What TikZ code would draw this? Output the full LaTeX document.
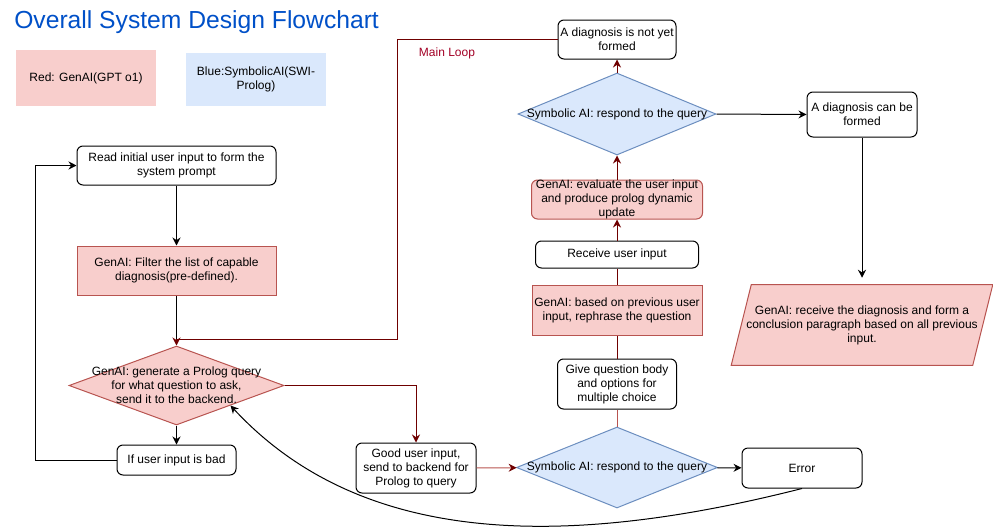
\documentclass[tikz,border=0pt]{standalone}
\usepackage{fontspec}
\setmainfont{Liberation Sans}
\usetikzlibrary{arrows.meta,shapes.geometric}

\definecolor{redfill}{HTML}{F8CECC}
\definecolor{redline}{HTML}{B85450}
\definecolor{bluefill}{HTML}{DAE8FC}
\definecolor{blueline}{HTML}{6C8EBF}
\definecolor{loopred}{HTML}{6F0000}
\definecolor{looptext}{HTML}{A20025}
\definecolor{titleblue}{HTML}{0050C8}

\tikzset{
  box/.style={draw, rounded corners=4.5pt, line width=0.75pt, align=center, inner sep=0pt},
  genbox/.style={draw=redline, fill=redfill, line width=0.75pt, align=center, inner sep=0pt},
  keybox/.style={align=center, inner sep=0pt},
  decision/.style={diamond, line width=0.75pt, inner sep=0pt},
  intext/.style={label={[align=center]center:{#1}}},
  link/.style={line width=0.75pt},
  flow/.style={line width=0.75pt, -{Stealth[length=6pt,width=6pt,inset=2pt]}},
  redflow/.style={line width=0.75pt, -{Stealth[length=6pt,width=6pt,inset=2pt,color=loopred]}},
}

\begin{document}
\begin{tikzpicture}[x=0.75pt, y=-0.75pt, font=\fontsize{9}{10.5}\selectfont]
  \useasboundingbox (0,0) rectangle (993,529);

  % Title and colour key
  \node[anchor=base west, inner sep=0pt, text=titleblue, font=\fontsize{18.5}{22}\selectfont] (title) at (14,28) {Overall System Design Flowchart};
  \node[keybox, fill=redfill, minimum width=105pt, minimum height=42pt] (keyred) at (86,78) {Red: GenAI(GPT o1)};
  \node[keybox, fill=bluefill, minimum width=105pt, minimum height=39.75pt] (keyblue) at (256,79.5) {Blue:SymbolicAI(SWI-\\Prolog)};

  % Left column
  \node[box, minimum width=149.25pt, minimum height=29.25pt] (read) at (176.5,165.5) {Read initial user input to form the\\system prompt};
  \node[genbox, minimum width=149.25pt, minimum height=36.75pt] (filter) at (176.5,270.5) {GenAI: Filter the list of capable\\diagnosis(pre-defined).};
  \node[decision, draw=redline, fill=redfill, minimum width=161.25pt, minimum height=59.25pt,
        intext={GenAI: generate a Prolog query\\for what question to ask,\\send it to the backend.}] (gen) at (176.5,385.5) {};
  \node[box, minimum width=89.25pt, minimum height=22.5pt] (bad) at (176.5,460) {If user input is bad};

  % Bottom row
  \node[box, minimum width=90pt, minimum height=37.5pt] (good) at (416,468) {Good user input,\\send to backend for\\Prolog to query};
  \node[decision, draw=blueline, fill=bluefill, minimum width=150.75pt, minimum height=60.75pt,
        intext={Symbolic AI: respond to the query}] (symlow) at (617,467.5) {};
  \node[box, minimum width=90pt, minimum height=30pt] (error) at (802,468) {Error};

  % Right column (upwards)
  \node[box, minimum width=89.25pt, minimum height=37.5pt] (give) at (617,384) {Give question body\\and options for\\multiple choice};
  \node[genbox, minimum width=127.5pt, minimum height=37.5pt] (rephrase) at (617,310) {GenAI: based on previous user\\input, rephrase the question};
  \node[box, minimum width=122.25pt, minimum height=20.25pt] (receive) at (617,254.5) {Receive user input};
  \node[genbox, rounded corners=4.5pt, minimum width=128.25pt, minimum height=29.25pt,
        intext={GenAI: evaluate the user input\\and produce prolog dynamic\\update}] (evaluate) at (617,199.5) {};
  \node[decision, draw=blueline, fill=bluefill, minimum width=148.5pt, minimum height=61.5pt,
        intext={Symbolic AI: respond to the query}] (symtop) at (617,114) {};
  \node[box, minimum width=88.5pt, minimum height=29.25pt] (notyet) at (617,39.5) {A diagnosis is not yet\\formed};
  \node[box, minimum width=82.5pt, minimum height=33.75pt] (canbe) at (862,114.5) {A diagnosis can be\\formed};

  % Conclusion parallelogram
  \node[inner sep=0pt, minimum width=180.75pt, minimum height=60pt] (conclude) at (862,325) {};
  \draw[draw=redline, fill=redfill, line width=0.75pt]
    ([xshift=-7.5pt]conclude.south west) -- ([xshift=7.5pt]conclude.north west)
    -- ([xshift=7.5pt]conclude.north east) -- ([xshift=-7.5pt]conclude.south east) -- cycle;
  \node[align=center, inner sep=0pt] (concludetext) at (conclude) {GenAI: receive the diagnosis and form a\\conclusion paragraph based on all previous\\input.};

  \node[inner sep=0pt, text=looptext] (looplabel) at (447,53) {Main Loop};

  % Connections
  \coordinate (join) at (176.5,339);
  \coordinate (loopcorner) at (397,339);
  \draw[flow] (read) -- (filter);
  \draw[link] (filter) -- (join);
  \draw[link, draw=loopred] (notyet.west) -| (loopcorner) -- (join);
  \draw[redflow, draw=loopred] (join) -- (gen.north);
  \draw[flow] (gen) -- (bad);
  \draw[flow] (bad.west) -- ++(-81,0) |- (read.west);
  \draw[redflow, draw=loopred] (gen.east) -| (good.north);
  \draw[redflow, draw=redline] (good) -- (symlow);
  \draw[flow] (symlow) -- (error);
  \draw[flow] (error.south) .. controls (560,550) and (360,545) .. (gen.south east);
  \draw[link, draw=redline] (symlow) -- (give);
  \draw[link, draw=loopred] (give) -- (rephrase);
  \draw[link, draw=loopred] (rephrase) -- (receive);
  \draw[redflow, draw=loopred] (receive) -- (evaluate);
  \draw[redflow, draw=loopred] (evaluate) -- (symtop);
  \draw[redflow, draw=loopred] (symtop) -- (notyet);
  \draw[flow] (symtop.east) -- (canbe.west);
  \draw[flow, shorten >=5.25pt] (canbe) -- (conclude.north);
\end{tikzpicture}
\end{document}
